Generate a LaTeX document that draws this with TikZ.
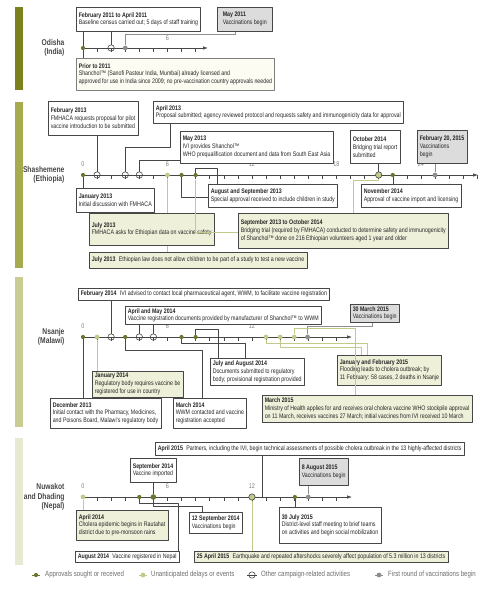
\documentclass[tikz,border=0pt]{standalone}
\usepackage{fontspec}
\setmainfont{Liberation Sans}[FakeStretch=0.8]
\usetikzlibrary{arrows.meta,positioning,calc,shadows}
\definecolor{Ink}{HTML}{464646}
\definecolor{Appr}{HTML}{6B7530}
\definecolor{Unex}{HTML}{C3C98A}
\definecolor{UnexFill}{HTML}{EEF0D9}
\definecolor{Vacc}{HTML}{8E8E8E}
\definecolor{VaccFill}{HTML}{DCDCDC}
\definecolor{Cream}{HTML}{FCFCF2}
\definecolor{BarA}{HTML}{7C8120}
\definecolor{BarB}{HTML}{A7AB4F}
\definecolor{BarC}{HTML}{CACD93}
\definecolor{BarD}{HTML}{E7E9D2}
\newcommand{\mo}[1]{83+14.08*#1}
\tikzset{
  evt/.style={draw=Ink,line width=0.5pt,fill=white,anchor=north west,align=left,inner xsep=2.5pt,inner ysep=2pt,text=black!85,font=\fontsize{6.6}{7.9}\selectfont},
  unx/.style={evt,fill=UnexFill},
  vac/.style={evt,fill=VaccFill},
  prior/.style={evt,draw=Ink!70,fill=Cream},
  shd/.style={drop shadow={shadow xshift=1pt,shadow yshift=-1pt,opacity=0.35}},
  ctry/.style={anchor=east,align=right,font=\fontsize{8.4}{9.6}\selectfont\bfseries,text=Ink},
  num/.style={font=\fontsize{6.8}{7}\selectfont,text=Ink!70},
  axis/.style={-{Latex[length=5pt,width=3.5pt]},line width=0.7pt,draw=Ink},
  tick/.style={line width=0.5pt,draw=Ink},
  lnk/.style={line width=0.5pt,draw=Ink},
  lnku/.style={line width=0.6pt,draw=Unex},
  lnkv/.style={line width=0.6pt,draw=Vacc},
  appr/.style={circle,fill=Appr,inner sep=0pt,minimum size=4.2pt},
  unexd/.style={circle,fill=Unex,inner sep=0pt,minimum size=4.8pt},
  vacd/.style={circle,fill=Vacc,inner sep=0pt,minimum size=4.8pt},
  othr/.style={circle,draw=Ink,line width=0.6pt,inner sep=0pt,minimum size=6.4pt},
  leg/.style={font=\fontsize{7.6}{8}\selectfont,text=Ink!80,inner sep=1pt},
}
\begin{document}
\begin{tikzpicture}[x=1pt,y=-1pt,line join=round]
\useasboundingbox (0,0) rectangle (499,590);
% side bars
\fill[BarA] (15,7) rectangle (23,90);
\fill[BarB] (15,102) rectangle (23,268);
\fill[BarC] (15,277) rectangle (23,427);
\fill[BarD] (15,438) rectangle (23,565);

% ---------------- Odisha
\node[ctry] (odisha) at (68,48) {Odisha\\(India)};
\coordinate (oa) at (83,48); \coordinate (ob) at (208,48);
\foreach \k in {1,...,8} \draw[tick] ({\mo{\k}},48) -- ++(0,4);
\draw[axis] (oa) -- (ob);
\node[num] at ({\mo{6}},38) {6};
\node[evt,minimum height=24pt] (feb11) at (76,7) {\textbf{February 2011 to April 2011}\\Baseline census carried out; 5 days of staff training};
\node[vac,minimum height=24pt,minimum width=55pt] (may11) at (217,7) {\textbf{May 2011}\\Vaccinations begin};
\node[prior,minimum height=32pt] (pre11) at (76,58) {\textbf{Prior to 2011}\\Shanchol™ (Sanofi Pasteur India, Mumbai) already licensed and\\approved for use in India since 2009; no pre-vaccination country approvals needed};
\node[appr] (o0) at ({\mo{0}},48) {};
\node[othr] (o2) at ({\mo{2}},48) {};
\node[vacd] (o3) at ({\mo{3}},48) {};
\draw[lnk] (o0) -- (o0 |- feb11.south);
\draw[lnk] (o0) -- (o0 |- pre11.north);
\draw[lnk] (o2) -- (o2 |- feb11.south);
\draw[lnkv] (o3.north) -- ++(0,-11) -| ([xshift=18pt]may11.south west);

% ---------------- Shashemene
\node[ctry] (ethio) at (68,175) {Shashemene\\(Ethiopia)};
\coordinate (sa) at (83,175); \coordinate (sb) at (478,175);
\foreach \k in {1,...,28} \draw[tick] ({\mo{\k}},175) -- ++(0,4);
\draw[axis] (sa) -- (sb);
\foreach \k in {0,6,12,18,24} \node[num] at ({\mo{\k}},164) {\k};
\node[evt,minimum height=34pt] (feb13) at (48,101) {\textbf{February 2013}\\FMHACA requests proposal for pilot\\vaccine introduction to be submitted};
\node[evt,minimum height=22pt] (apr13) at (153,101) {\textbf{April 2013}\\Proposal submitted; agency reviewed protocol and requests safety and immunogenicity data for approval};
\node[evt,minimum height=32pt] (may13) at (180,131) {\textbf{May 2013}\\IVI provides Shanchol™\\WHO prequalification document and data from South East Asia};
\node[evt,minimum height=33pt] (oct14) at (350,130) {\textbf{October 2014}\\Bridging trial report\\submitted};
\node[vac,minimum height=33pt] (feb15) at (417,130) {\textbf{February 20, 2015}\\Vaccinations\\begin};
\node[evt,minimum height=24pt] (jan13) at (76,188) {\textbf{January 2013}\\Initial discussion with FMHACA};
\node[evt,minimum height=23pt] (augsep13) at (208,184) {\textbf{August and September 2013}\\Special approval received to include children in study};
\node[evt,minimum height=23pt] (nov14) at (361,184) {\textbf{November 2014}\\Approval of vaccine import and licensing};
\node[unx,minimum height=32pt] (jul13a) at (89,213) {\textbf{July 2013}\\FMHACA asks for Ethiopian data on vaccine safety};
\node[unx,minimum height=16pt] (jul13b) at (89,252) {\textbf{July 2013}\enspace Ethiopian law does not allow children to be part of a study to test a new vaccine};
\node[unx,shd,minimum height=35pt] (sep13) at (238,213) {\textbf{September 2013 to October 2014}\\Bridging trial (required by FMHACA) conducted to determine safety and immunogenicity\\of Shanchol™ done on 216 Ethiopian volunteers aged 1 year and older};
\node[appr] (s0) at ({\mo{0}},175) {};
\node[othr] (s1) at ({\mo{1}},175) {};
\node[othr] (s3) at ({\mo{3}},175) {};
\node[othr] (s4) at ({\mo{4}},175) {};
\node[unexd] (s6) at ({\mo{6}},175) {};
\node[appr] (s7) at ({\mo{7}},175) {};
\node[appr] (s8) at ({\mo{8}},175) {};
\node[othr,fill=Unex] (s21) at ({\mo{21}},175) {};
\node[appr] (s22) at ({\mo{22}},175) {};
\node[vacd] (s25) at ({\mo{25}},175) {};
\draw[lnk] (s1) -- (s1 |- feb13.south);
\draw[lnk] (s3.north) -- ++(0,-24) -| ([xshift=17pt]apr13.south west);
\draw[lnk] (s4.north) |- ([yshift=3pt]may13.south west);
\draw[lnk] (s21) -- (s21 |- oct14.south);
\draw[lnkv] (s25) -- (s25 |- feb15.south);
\draw[lnk] (s0) -- (s0 |- jan13.north);
\draw[lnk] (s7.south) |- ([yshift=-1.5pt]augsep13.west);
\draw[lnk] (s8.north) -- ++(0,-4) -| ([xshift=9pt]augsep13.north west);
\draw[lnk] (s22) -- (s22 |- nov14.north);
\draw[lnku] (s6) -- (s6 |- jul13a.north);
\draw[lnku] (jul13a.south -| s6) -- (s6 |- jul13b.north);
\draw[lnku] (s8.south) ++(0,3) |- ([yshift=-2pt]sep13.west);
\draw[lnku] (s21.south) -- ++(0,2) -| ([xshift=115pt]sep13.north west);

% ---------------- Nsanje
\node[ctry] (malawi) at (68,337) {Nsanje\\(Malawi)};
\coordinate (na) at (83,337); \coordinate (nb) at (352,337);
\foreach \k in {1,...,18} \draw[tick] ({\mo{\k}},337) -- ++(0,4);
\draw[axis] (na) -- (nb);
\foreach \k in {0,6,12} \node[num] at ({\mo{\k}},326) {\k};
\node[evt,minimum height=12pt] (feb14) at (78,288) {\textbf{February 2014}\enspace IVI advised to contact local pharmaceutical agent, WWM, to facilitate vaccine registration};
\node[evt,minimum height=16pt] (aprmay14) at (125,306) {\textbf{April and May 2014}\\Vaccine registration documents provided by manufacturer of Shanchol™ to WWM};
\node[vac,minimum height=16pt] (mar15v) at (350,304) {\textbf{30 March 2015}\\Vaccinations begin};
\node[unx,minimum height=26pt] (jan14) at (92,371) {\textbf{January 2014}\\Regulatory body requires vaccine be\\registered for use in country};
\node[evt,minimum height=30pt] (dec13) at (50,398) {\textbf{December 2013}\\Initial contact with the Pharmacy, Medicines,\\and Poisons Board, Malawi's regulatory body};
\node[evt,minimum height=30pt] (mar14) at (173,398) {\textbf{March 2014}\\WWM contacted and vaccine\\registration accepted};
\node[evt,minimum height=27pt] (julaug14) at (210,358) {\textbf{July and August 2014}\\Documents submitted to regulatory\\body; provisional registration provided};
\node[unx,minimum height=30pt] (janfeb15) at (337,355) {\textbf{January and February 2015}\\Flooding leads to cholera outbreak; by\\11 February: 58 cases, 2 deaths in Nsanje};
\node[unx,minimum height=27pt] (mar15) at (262,395) {\textbf{March 2015}\\Ministry of Health applies for and receives oral cholera vaccine WHO stockpile approval\\on 11 March, receives vaccines 27 March; initial vaccines from IVI received 10 March};
\node[appr] (n0) at ({\mo{0}},337) {};
\node[unexd] (n1) at ({\mo{1}},337) {};
\node[othr] (n2) at ({\mo{2}},337) {};
\node[appr] (n3) at ({\mo{3}},337) {};
\node[othr] (n4) at ({\mo{4}},337) {};
\node[othr] (n5) at ({\mo{5}},337) {};
\node[appr] (n7) at ({\mo{7}},337) {};
\node[appr] (n8) at ({\mo{8}},337) {};
\node[unexd] (n13) at ({\mo{13}},337) {};
\node[unexd] (n14) at ({\mo{14}},337) {};
\node[unexd] (n15) at ({\mo{15}},337) {};
\node[vacd] (n16) at ({\mo{15.95}},337) {};
\draw[lnk] (n2) -- (n2 |- feb14.south);
\draw[lnk] (n4) -- (n4 |- aprmay14.south);
\draw[lnk] (n5) -- (n5 |- aprmay14.south);
\draw[lnkv] (n16.north) -- ++(0,-8) -| ([xshift=22pt]mar15v.south west);
\draw[lnku] (n1) -- (n1 |- jan14.north);
\draw[lnk] (n0) -- (n0 |- dec13.north);
\draw[lnk] (n3.south) -- ++(0,11) -| ([xshift=29pt]mar14.north west);
\draw[lnk] (n7.south) -- ++(0,4) -| ([xshift=35pt]julaug14.north west);
\draw[lnk] (n8.north) -- ++(0,-5) -| ([xshift=8pt]julaug14.north west);
\draw[lnku] (n13.south) -- ++(0,4) -| ([xshift=30pt]janfeb15.north west);
\draw[lnku] (n14.south) -- ++(0,8) -| ([xshift=24pt]janfeb15.north west);
\draw[lnku] (n15.north) -- ++(0,-6) -| ([xshift=93pt]mar15.north west);

% ---------------- Nuwakot and Dhading
\node[ctry] (nepal) at (68,497) {Nuwakot\\and Dhading\\(Nepal)};
\coordinate (pa) at (83,497); \coordinate (pb) at (352,497);
\foreach \k in {1,...,18} \draw[tick] ({\mo{\k}},497) -- ++(0,4);
\draw[axis] (pa) -- (pb);
\foreach \k in {0,6,12} \node[num] at ({\mo{\k}},486) {\k};
\node[evt,minimum height=13pt] (apr15) at (155,442) {\textbf{April 2015}\enspace Partners, including the IVI, begin technical assessments of possible cholera outbreak in the 13 highly-affected districts};
\node[evt,minimum height=24pt] (sep14) at (130,458) {\textbf{September 2014}\\Vaccine imported};
\node[vac,minimum height=27pt] (aug15v) at (299,458) {\textbf{8 August 2015}\\Vaccinations begin};
\node[unx,minimum height=30pt] (apr14) at (76,510) {\textbf{April 2014}\\Cholera epidemic begins in Rautahat\\district due to pre-monsoon rains};
\node[evt,minimum height=21pt] (sep14v) at (189,512) {\textbf{12 September 2014}\\Vaccinations begin};
\node[evt,minimum height=36pt] (jul15) at (279,507) {\textbf{30 July 2015}\\District-level staff meeting to brief teams\\on activities and begin social mobilization};
\node[evt,minimum height=11pt] (aug14) at (75,551) {\textbf{August 2014}\enspace Vaccine registered in Nepal};
\node[unx,shd,minimum height=11pt] (quake) at (194,551) {\textbf{25 April 2015}\enspace Earthquake and repeated aftershocks severely affect population of 5.3 million in 13 districts};
\node[unexd] (p0) at ({\mo{0}},497) {};
\node[appr] (p4) at ({\mo{4}},497) {};
\node[appr,minimum size=5.6pt] (p5) at ({\mo{5}},497) {};
\node[othr,fill=Unex] (p12) at ({\mo{12}},497) {};
\node[appr] (p15) at ({\mo{15.05}},497) {};
\node[vacd] (p16) at ({\mo{16}},497) {};
\draw[lnk] (p12.east) -| ([xshift=107pt]apr15.south west);
\draw[lnk] (p5) -- (p5 |- sep14.south);
\draw[lnkv] (p16) -- (p16 |- aug15v.south);
\draw[lnku] (p0) -- (p0 |- apr14.north);
\draw[lnk] (p5.south) -- ++(0,6) -| ([xshift=13pt]sep14v.north west);
\draw[lnk] (p15) -- (p15 |- jul15.north);
\draw[lnk] (p4.south) -- ++(0,4) -| ([xshift=-1pt]aug14.north east);
\draw[lnku] (p12) -- (p12 |- quake.north);

% ---------------- legend
\node[appr] (lg1) at (36,575) {};
\draw[Appr,line width=0.6pt] ([xshift=-4pt]lg1.center) -- ([xshift=4pt]lg1.center);
\node[leg,anchor=west] (lt1) at (44,575) {Approvals sought or received};
\node[unexd] (lg2) at (143,575) {};
\draw[Unex,line width=0.6pt] ([xshift=-4pt]lg2.center) -- ([xshift=4pt]lg2.center);
\node[leg,anchor=west] (lt2) at (150,575) {Unanticipated delays or events};
\node[othr] (lg3) at (252,575) {};
\draw[Ink,line width=0.6pt] ([xshift=-5pt]lg3.center) -- ([xshift=5pt]lg3.center);
\node[leg,anchor=west] (lt3) at (260,575) {Other campaign-related activities};
\node[vacd] (lg4) at (379,575) {};
\draw[Vacc,line width=0.6pt] ([xshift=-4pt]lg4.center) -- ([xshift=4pt]lg4.center);
\node[leg,anchor=west] (lt4) at (387,575) {First round of vaccinations begin};
\end{tikzpicture}
\end{document}
